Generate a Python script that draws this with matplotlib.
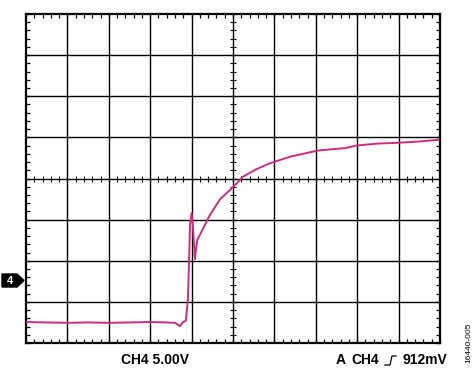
import numpy as np
import matplotlib
matplotlib.use("Agg")
import matplotlib.pyplot as plt
from matplotlib.ticker import MultipleLocator, NullFormatter
from matplotlib.patches import Polygon
from matplotlib.lines import Line2D

# CH4 trace (x in divisions, y in divisions from bottom)
t_div = [0.0, 0.5, 1.0, 1.5, 2.0, 2.5, 3.0, 3.4, 3.6, 3.72, 3.79, 3.86,
         3.91, 3.94, 3.96, 4.0, 4.03, 4.08, 4.11, 4.14, 4.32, 4.44, 4.69,
         4.97, 5.25, 5.55, 5.89, 6.38, 7.05, 7.71, 7.97, 8.5, 9.03, 9.5, 9.95]
v_div = [0.51, 0.50, 0.49, 0.50, 0.49, 0.50, 0.51, 0.50, 0.49, 0.41, 0.51, 0.54,
         1.05, 2.02, 2.87, 3.16, 2.87, 2.04, 2.31, 2.51, 2.87, 3.11, 3.50,
         3.76, 4.05, 4.22, 4.37, 4.53, 4.68, 4.74, 4.80, 4.85, 4.87, 4.90, 4.94]

trace_color = "#C8307F"
font = "Liberation Sans"

fig = plt.figure(figsize=(4.77, 3.68), dpi=100)
ax = fig.add_axes([26 / 477, 1 - 343 / 368, 414 / 477, 329 / 368])
ax.set_xlim(0, 10)
ax.set_ylim(0, 8)

# graticule
for x in range(1, 10):
    ax.axvline(x, color="black", lw=1.0, zorder=1)
for y in range(1, 8):
    ax.axhline(y, color="black", lw=1.0, zorder=1)

# ticks on the center lines
minor = np.arange(0, 10.01, 0.2)
ax.plot(minor, np.full_like(minor, 4.0), ls="none", marker="|", ms=4, mew=0.8, color="black", zorder=1)
minor_y = np.arange(0, 8.01, 0.2)
ax.plot(np.full_like(minor_y, 5.0), minor_y, ls="none", marker="_", ms=4, mew=0.8, color="black", zorder=1)

ax.xaxis.set_major_locator(MultipleLocator(0.2))
ax.yaxis.set_major_locator(MultipleLocator(0.2))
ax.xaxis.set_major_formatter(NullFormatter())
ax.yaxis.set_major_formatter(NullFormatter())
ax.tick_params(direction="in", top=True, right=True, length=3, width=0.9)
for s in ax.spines.values():
    s.set_linewidth(1.6)

ax.plot(t_div, v_div, color=trace_color, lw=1.4, zorder=3)

# channel 4 ground marker
def fx(px):
    return px / 477

def fy(py):
    return 1 - py / 368

mk = Polygon([[fx(2), fy(274)], [fx(17), fy(274)], [fx(24), fy(280.5)],
              [fx(17), fy(287)], [fx(2), fy(287)]],
             closed=True, transform=fig.transFigure, color="black")
fig.patches.append(mk)
fig.text(fx(10), fy(280.5), "4", color="white", fontsize=8, fontweight="bold",
         family=font, ha="center", va="center")

fig.text(fx(121), fy(360), "CH4 5.00V", fontsize=10, fontweight="bold",
         family=font, ha="left", va="center")
fig.text(fx(336), fy(360), "A", fontsize=10, fontweight="bold",
         family=font, ha="left", va="center")
fig.text(fx(351), fy(360), "CH4", fontsize=10, fontweight="bold",
         family=font, ha="left", va="center")
# trigger edge symbol
fig.lines.append(Line2D([fx(385), fx(390), fx(392), fx(396)],
                        [fy(365), fy(365), fy(356), fy(356)],
                        transform=fig.transFigure, color="black", lw=0.9))
fig.text(fx(403), fy(360), "912mV", fontsize=10, fontweight="bold",
         family=font, ha="left", va="center")
fig.text(fx(469), fy(343), "16440-005", fontsize=6, rotation=90,
         family=font, ha="center", va="center")

fig.savefig("out.png", dpi=100)
